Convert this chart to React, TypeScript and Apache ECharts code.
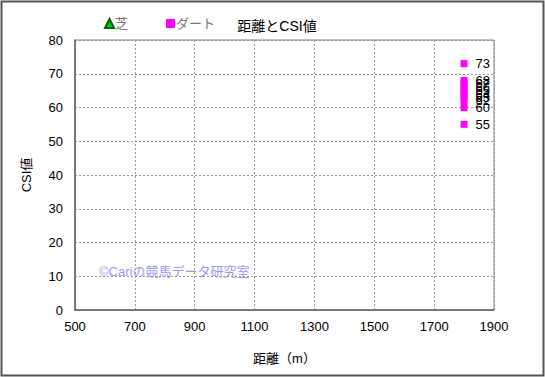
import React, { useEffect, useRef } from "react";
import * as echarts from "echarts";

const xTicks = [500, 700, 900, 1100, 1300, 1500, 1700, 1900];
const turfData: number[][] = [];
const dirtDistances = [1800, 1800, 1800, 1800, 1800, 1800, 1800, 1800, 1800, 1800];
const dirtCSI = [73, 68, 67, 66, 65, 64, 63, 62, 60, 55];

const FONT = "'Liberation Sans', 'Noto Sans CJK JP', sans-serif";

export default function App() {
  const ref = useRef<HTMLDivElement>(null);
  useEffect(() => {
    if (!ref.current) return;
    document.body.style.margin = "0";
    const chart = echarts.init(ref.current, undefined, { renderer: "svg" });
    const dirt = dirtDistances.map((d, i) => [d, dirtCSI[i]]);
    chart.setOption({
      animation: false,
      backgroundColor: "#fff",
      textStyle: { fontFamily: FONT },
      title: {
        text: "距離とCSI値",
        left: 272,
        top: 14,
        textAlign: "center",
        textStyle: { fontSize: 14, fontWeight: "normal", color: "#000", fontFamily: FONT },
      },
      legend: {
        left: 99,
        top: 12,
        itemWidth: 9,
        itemHeight: 9,
        itemGap: 38,
        textStyle: { fontSize: 13, color: "#777", fontFamily: FONT, padding: [0, 0, 0, -4] },
        data: [
          { name: "芝", icon: "triangle" },
          { name: "ダート", icon: "rect" },
        ],
      },
      grid: {
        left: 75,
        right: 51,
        top: 40,
        bottom: 67,
        show: true,
        borderColor: "#808080",
        borderWidth: 1,
      },
      xAxis: {
        type: "value",
        min: 500,
        max: 1900,
        interval: 200,
        name: "距離（m）",
        nameLocation: "middle",
        nameGap: 42,
        nameTextStyle: { fontSize: 13, color: "#000", fontFamily: FONT },
        axisLine: { lineStyle: { color: "#666", width: 1.5 } },
        axisTick: { show: false },
        axisLabel: {
          fontSize: 13,
          color: "#000",
          margin: 10,
          formatter: (v: number) => (xTicks.includes(v) ? String(v) : ""),
        },
        splitLine: { show: true, lineStyle: { color: "#999", type: [2, 2] } },
      },
      yAxis: {
        type: "value",
        min: 0,
        max: 80,
        interval: 10,
        name: "CSI値",
        nameLocation: "middle",
        nameGap: 42,
        nameTextStyle: { fontSize: 13, color: "#000", fontFamily: FONT },
        axisLine: { show: true, lineStyle: { color: "#666", width: 1.5 } },
        axisTick: { show: false },
        axisLabel: { fontSize: 13, color: "#000", margin: 12 },
        splitLine: { show: true, lineStyle: { color: "#999", type: [2, 2] } },
      },
      graphic: [
        {
          type: "rect",
          x: 0,
          y: 0,
          z: 100,
          shape: { x: 1.5, y: 1.5, width: 542, height: 374 },
          style: { fill: "transparent", stroke: "#555", lineWidth: 2 },
          silent: true,
        },
        {
          type: "text",
          left: 99,
          top: 265,
          style: {
            text: "©Cariの競馬データ研究室",
            fill: "#9a9aee",
            fontSize: 13,
            fontFamily: FONT,
          },
          silent: true,
        },
      ],
      series: [
        {
          name: "芝",
          type: "scatter",
          symbol: "triangle",
          symbolSize: 9,
          itemStyle: { color: "#00cc00", borderColor: "#006600", borderWidth: 0.5, opacity: 1 },
          data: turfData,
        },
        {
          name: "ダート",
          type: "scatter",
          symbol: "rect",
          symbolSize: 7,
          itemStyle: { color: "#ff00ff", opacity: 1 },
          label: {
            show: true,
            position: "right",
            distance: 8,
            fontSize: 13,
            color: "#000",
            fontFamily: FONT,
            formatter: (p: any) => String(p.value[1]),
          },
          labelLayout: { hideOverlap: false },
          data: dirt,
        },
      ],
    });
    return () => chart.dispose();
  }, []);
  return <div ref={ref} style={{ width: 545, height: 377 }} />;
}
